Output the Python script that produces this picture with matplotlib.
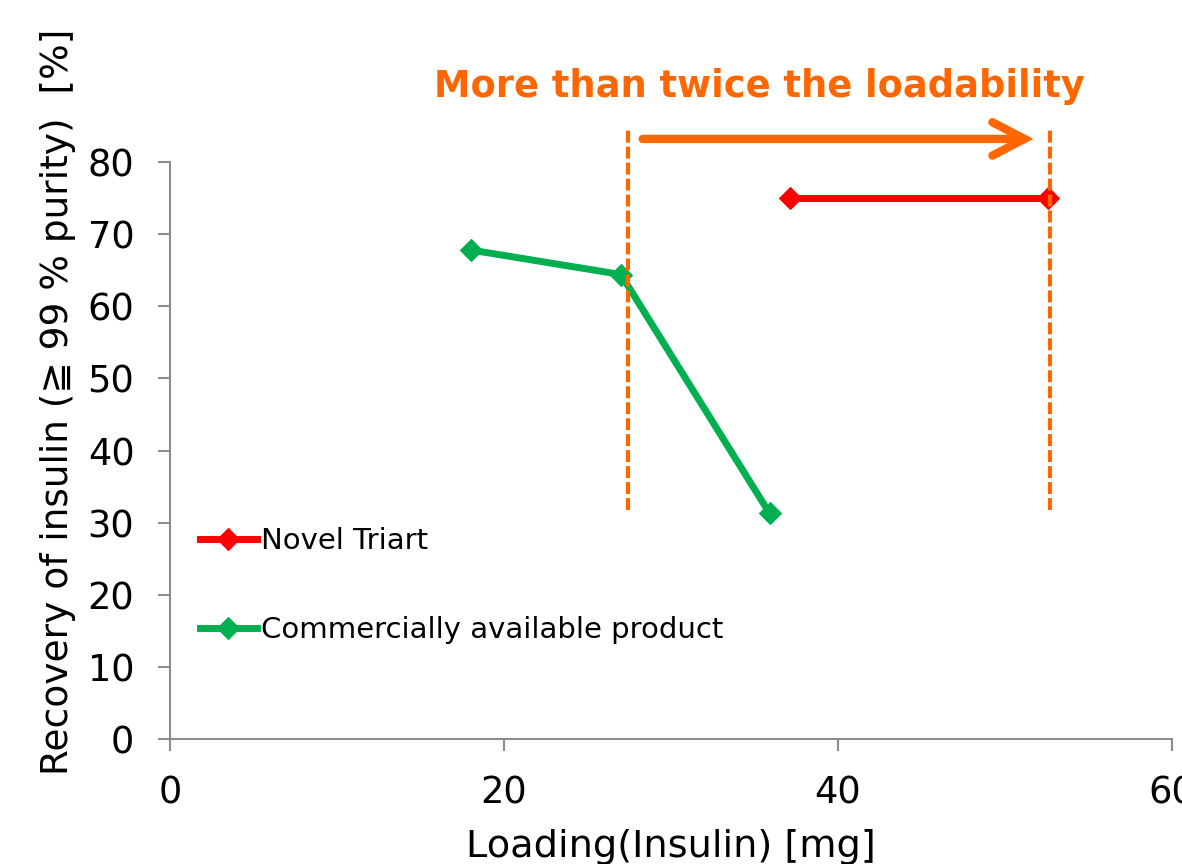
import matplotlib
matplotlib.use("Agg")
import matplotlib.pyplot as plt

# ---- data ----
triart_x = [37.1, 52.6]
triart_y = [75.0, 75.0]
commercial_x = [18.0, 27.0, 35.9]
commercial_y = [67.8, 64.4, 31.3]
series_labels = ["Novel Triart", "Commercially available product"]

guide_x = [27.4, 52.7]
guide_ymin = 31.8
guide_ymax = 84.7
arrow_x = [28.3, 51.7]
arrow_y = 83.2
headline = "More than twice the loadability"
headline_x = 35.3
headline_y = 89.0

x_ticks = [0, 20, 40, 60]
y_ticks = [0, 10, 20, 30, 40, 50, 60, 70, 80]
x_label = "Loading(Insulin) [mg]"
y_label = "Recovery of insulin (\u2267 99 % purity)  [%]"

RED = "#FF0000"
GREEN = "#00B050"
ORANGE = "#FF6600"
SPINE = "#8C8C8C"

plt.rcParams["font.family"] = ["DejaVu Sans"]
plt.rcParams["lines.scale_dashes"] = False

fig = plt.figure(figsize=(11.82, 8.64), dpi=100)
ax = fig.add_axes([170 / 1182, 1 - 739 / 864, 1002 / 1182, 577 / 864])

ax.set_xlim(0, 60)
ax.set_ylim(0, 80)

# guide lines
for gx in guide_x:
    ax.plot([gx, gx], [guide_ymin, guide_ymax], color=ORANGE, lw=3.0,
            dashes=(8.6, 2.9), solid_capstyle="butt", dash_capstyle="butt",
            clip_on=False, zorder=4)

# series
ax.plot(triart_x, triart_y, color=RED, lw=5, marker="D", ms=11.5, mew=0.8,
        mec=RED, mfc=RED, label=series_labels[0], clip_on=False, zorder=3)
ax.plot(commercial_x, commercial_y, color=GREEN, lw=5, marker="D", ms=11.5,
        mew=0.8, mec=GREEN, mfc=GREEN, label=series_labels[1], clip_on=False,
        zorder=3)

# arrow
ax.annotate("", xy=(arrow_x[1], arrow_y), xytext=(arrow_x[0], arrow_y),
            xycoords="data", textcoords="data", annotation_clip=False,
            arrowprops=dict(arrowstyle="->,head_length=1.15,head_width=0.6",
                            mutation_scale=20, lw=6, color=ORANGE,
                            shrinkA=0, shrinkB=0, capstyle="round",
                            joinstyle="miter"))

ax.text(headline_x, headline_y, headline, color=ORANGE, fontsize=26.5,
        fontweight="bold", ha="center", va="baseline", clip_on=False)

# axes styling
for s in ["top", "right"]:
    ax.spines[s].set_visible(False)
for s in ["left", "bottom"]:
    ax.spines[s].set_color(SPINE)
    ax.spines[s].set_linewidth(1.5)

ax.set_xticks(x_ticks)
ax.set_yticks(y_ticks)
ax.tick_params(axis="both", which="major", direction="out", length=8.6,
               width=1.5, color=SPINE, labelsize=26.5, pad=17)

ax.set_xlabel(x_label, fontsize=27.5)
ax.xaxis.set_label_coords(0.5, -0.2045)
ax.xaxis.label.set_verticalalignment("baseline")
ax.set_ylabel(y_label, fontsize=27)
ax.yaxis.set_label_coords(-0.1118, 0.584)
ax.yaxis.label.set_verticalalignment("center")

leg = ax.legend(loc="upper left", bbox_to_anchor=(0.03, 0.367), frameon=False,
                fontsize=21, handlelength=1.95, handletextpad=0.15,
                labelspacing=2.1, borderpad=0, borderaxespad=0)

fig.savefig("out.png", dpi=100)
